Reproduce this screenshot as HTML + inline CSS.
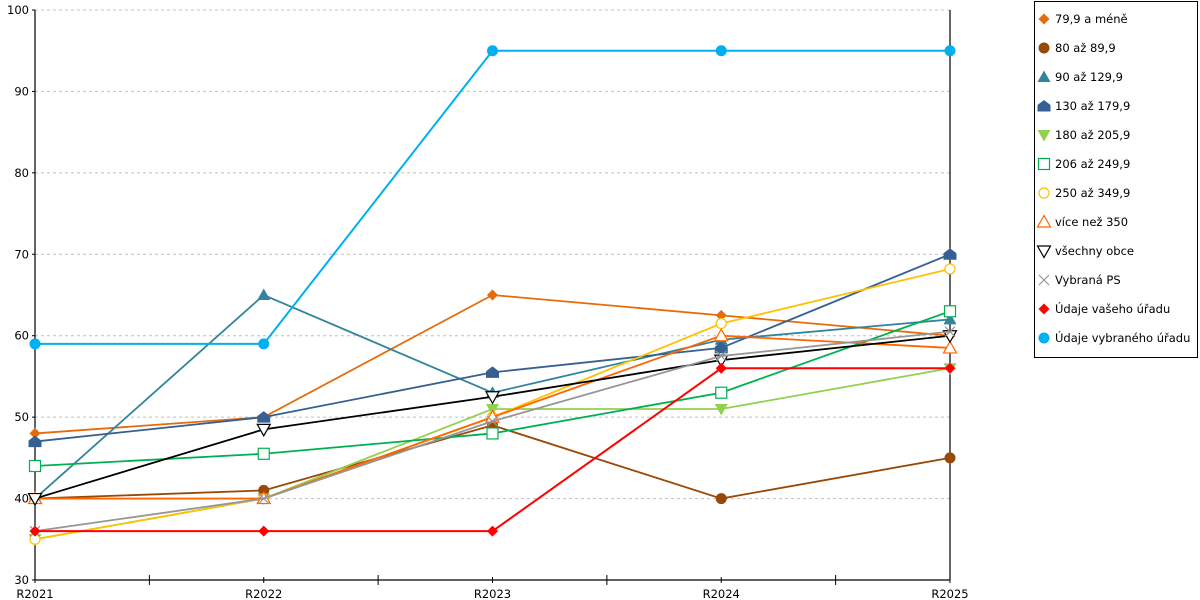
<!DOCTYPE html>
<html><head><meta charset="utf-8"><style>
body{margin:0;background:#fff;}
svg{display:block;font-family:"DejaVu Sans","Liberation Sans",sans-serif;font-size:11.5px;}
</style></head><body>
<svg id="chart" width="1200" height="600">
<g id="grid"></g>
<g id="axes"></g>
<g id="series"></g>
<g id="legend"></g>
</svg>
<script>
const categories = ["R2021","R2022","R2023","R2024","R2025"];
const yTicks = [30,40,50,60,70,80,90,100];
const seriesNames = ["79,9 a méně","80 až 89,9","90 až 129,9","130 až 179,9","180 až 205,9","206 až 249,9","250 až 349,9","více než 350","všechny obce","Vybraná PS","Údaje vašeho úřadu","Údaje vybraného úřadu"];
const s0 = [48,50,65,62.5,60];
const s1 = [40,41,49,40,45];
const s2 = [40,65,53,59.5,62];
const s3 = [47,50,55.5,58.5,70];
const s4 = [35,40,51,51,56];
const s5 = [44,45.5,48,53,63];
const s6 = [35,40,50,61.5,68.2];
const s7 = [40,40,50,60,58.5];
const s8 = [40,48.5,52.5,57,60];
const s9 = [36,40,49.5,57.5,60.5];
const s10 = [36,36,36,56,56];
const s11 = [59,59,95,95,95];
const seriesValues = [s0,s1,s2,s3,s4,s5,s6,s7,s8,s9,s10,s11];
const colors = ["#e46c0a","#984807","#31849b","#366092","#92d050","#00b050","#ffc000","#ff6600","#000000","#969696","#ff0000","#00b0f0"];
const markers = ["diamond","circle","tri","house","dtri","square","ocircle","otri","odtri","x","diamond","circle"];

const X0=35,X1=950,Y0=580,Y1=10,VMIN=30,VMAX=100;
const xs=i=>X0+(X1-X0)*i/(categories.length-1);
const ys=v=>Y0-(v-VMIN)/(VMAX-VMIN)*(Y0-Y1);
const NS="http://www.w3.org/2000/svg";
function mk(tag,attrs,parent){const e=document.createElementNS(NS,tag);for(const k in attrs)e.setAttribute(k,attrs[k]);parent.appendChild(e);return e;}
const grid=document.getElementById('grid'),axes=document.getElementById('axes'),ser=document.getElementById('series'),leg=document.getElementById('legend');

yTicks.forEach(t=>{
  if(t>VMIN){const l=mk('line',{x1:X0,x2:X1,y1:ys(t),y2:ys(t),stroke:'#c0c0c0','stroke-dasharray':'3,3'},grid);
  
  }
  const tx=mk('text',{x:X0-6,y:ys(t)+4,'text-anchor':'end',fill:'#000'},axes);tx.textContent=t;
  
  
  mk('line',{x1:X0-3,x2:X0,y1:ys(t),y2:ys(t),stroke:'#000'},axes);
});
mk('line',{x1:X0,x2:X0,y1:Y1,y2:Y0,stroke:'#000','stroke-width':1.2},axes);
mk('line',{x1:X1,x2:X1,y1:Y1,y2:Y0,stroke:'#000','stroke-width':1.2},axes);
mk('line',{x1:X0,x2:X1,y1:Y0,y2:Y0,stroke:'#000','stroke-width':1.2},axes);
categories.forEach((c,i)=>{
  const tx=mk('text',{x:xs(i),y:598,'text-anchor':'middle',fill:'#000'},axes);tx.textContent=c;
  
  
  mk('line',{x1:xs(i),x2:xs(i),y1:Y0-3,y2:Y0+3,stroke:'#000'},axes);
  if(i<categories.length-1){const m=(xs(i)+xs(i+1))/2;mk('line',{x1:m,x2:m,y1:Y0-5,y2:Y0+5,stroke:'#000'},axes);}
});

function marker(type,x,y,c,parent){
  let e;
  switch(type){
    case 'diamond':e=mk('polygon',{points:`${x},${y-5.5} ${x+5.5},${y} ${x},${y+5.5} ${x-5.5},${y}`,fill:c},parent);break;
    case 'circle':e=mk('circle',{cx:x,cy:y,r:5.5,fill:c},parent);break;
    case 'ocircle':e=mk('circle',{cx:x,cy:y,r:5,fill:'#fff',stroke:c,'stroke-width':1.2},parent);break;
    case 'tri':e=mk('polygon',{points:`${x},${y-6.5} ${x+6.5},${y+5} ${x-6.5},${y+5}`,fill:c},parent);break;
    case 'otri':e=mk('polygon',{points:`${x},${y-6.5} ${x+6.5},${y+5} ${x-6.5},${y+5}`,fill:'#fff',stroke:c,'stroke-width':1.2},parent);break;
    case 'house':e=mk('polygon',{points:`${x},${y-6} ${x+6.5},${y-1} ${x+6.5},${y+5.5} ${x-6.5},${y+5.5} ${x-6.5},${y-1}`,fill:c},parent);break;
    case 'dtri':e=mk('polygon',{points:`${x-6.5},${y-5} ${x+6.5},${y-5} ${x},${y+6.5}`,fill:c},parent);break;
    case 'odtri':e=mk('polygon',{points:`${x-6.5},${y-5} ${x+6.5},${y-5} ${x},${y+6.5}`,fill:'#fff',stroke:c,'stroke-width':1.2},parent);break;
    case 'square':e=mk('rect',{x:x-5.5,y:y-5.5,width:11,height:11,fill:'#fff',stroke:c,'stroke-width':1.2},parent);break;
    case 'x':e=mk('path',{d:`M${x-5},${y-5}L${x+5},${y+5}M${x+5},${y-5}L${x-5},${y+5}`,stroke:c,'stroke-width':1.2,fill:'none'},parent);break;
  }
  return e;
}

seriesValues.forEach((vals,si)=>{
  const g=mk('g',{},ser);
  
  
  const pl=mk('polyline',{points:vals.map((v,i)=>xs(i)+','+ys(v)).join(' '),fill:'none',stroke:colors[si],'stroke-width':si==10||si==11?2:1.8},g);
  
  
  vals.forEach((v,i)=>{const m=marker(markers[si],xs(i),ys(v),colors[si],g);
    
    });
});

mk('rect',{x:1034.5,y:1.5,width:163,height:356,fill:'#fff',stroke:'#000'},leg);
seriesNames.forEach((n,i)=>{
  const y=19+i*29;
  const g=mk('g',{},leg);
  
  
  marker(markers[i],1044,y,colors[i],g);
  const t=mk('text',{x:1055,y:y+4,fill:'#000'},g);t.textContent=n;
});
</script>
</body></html>
